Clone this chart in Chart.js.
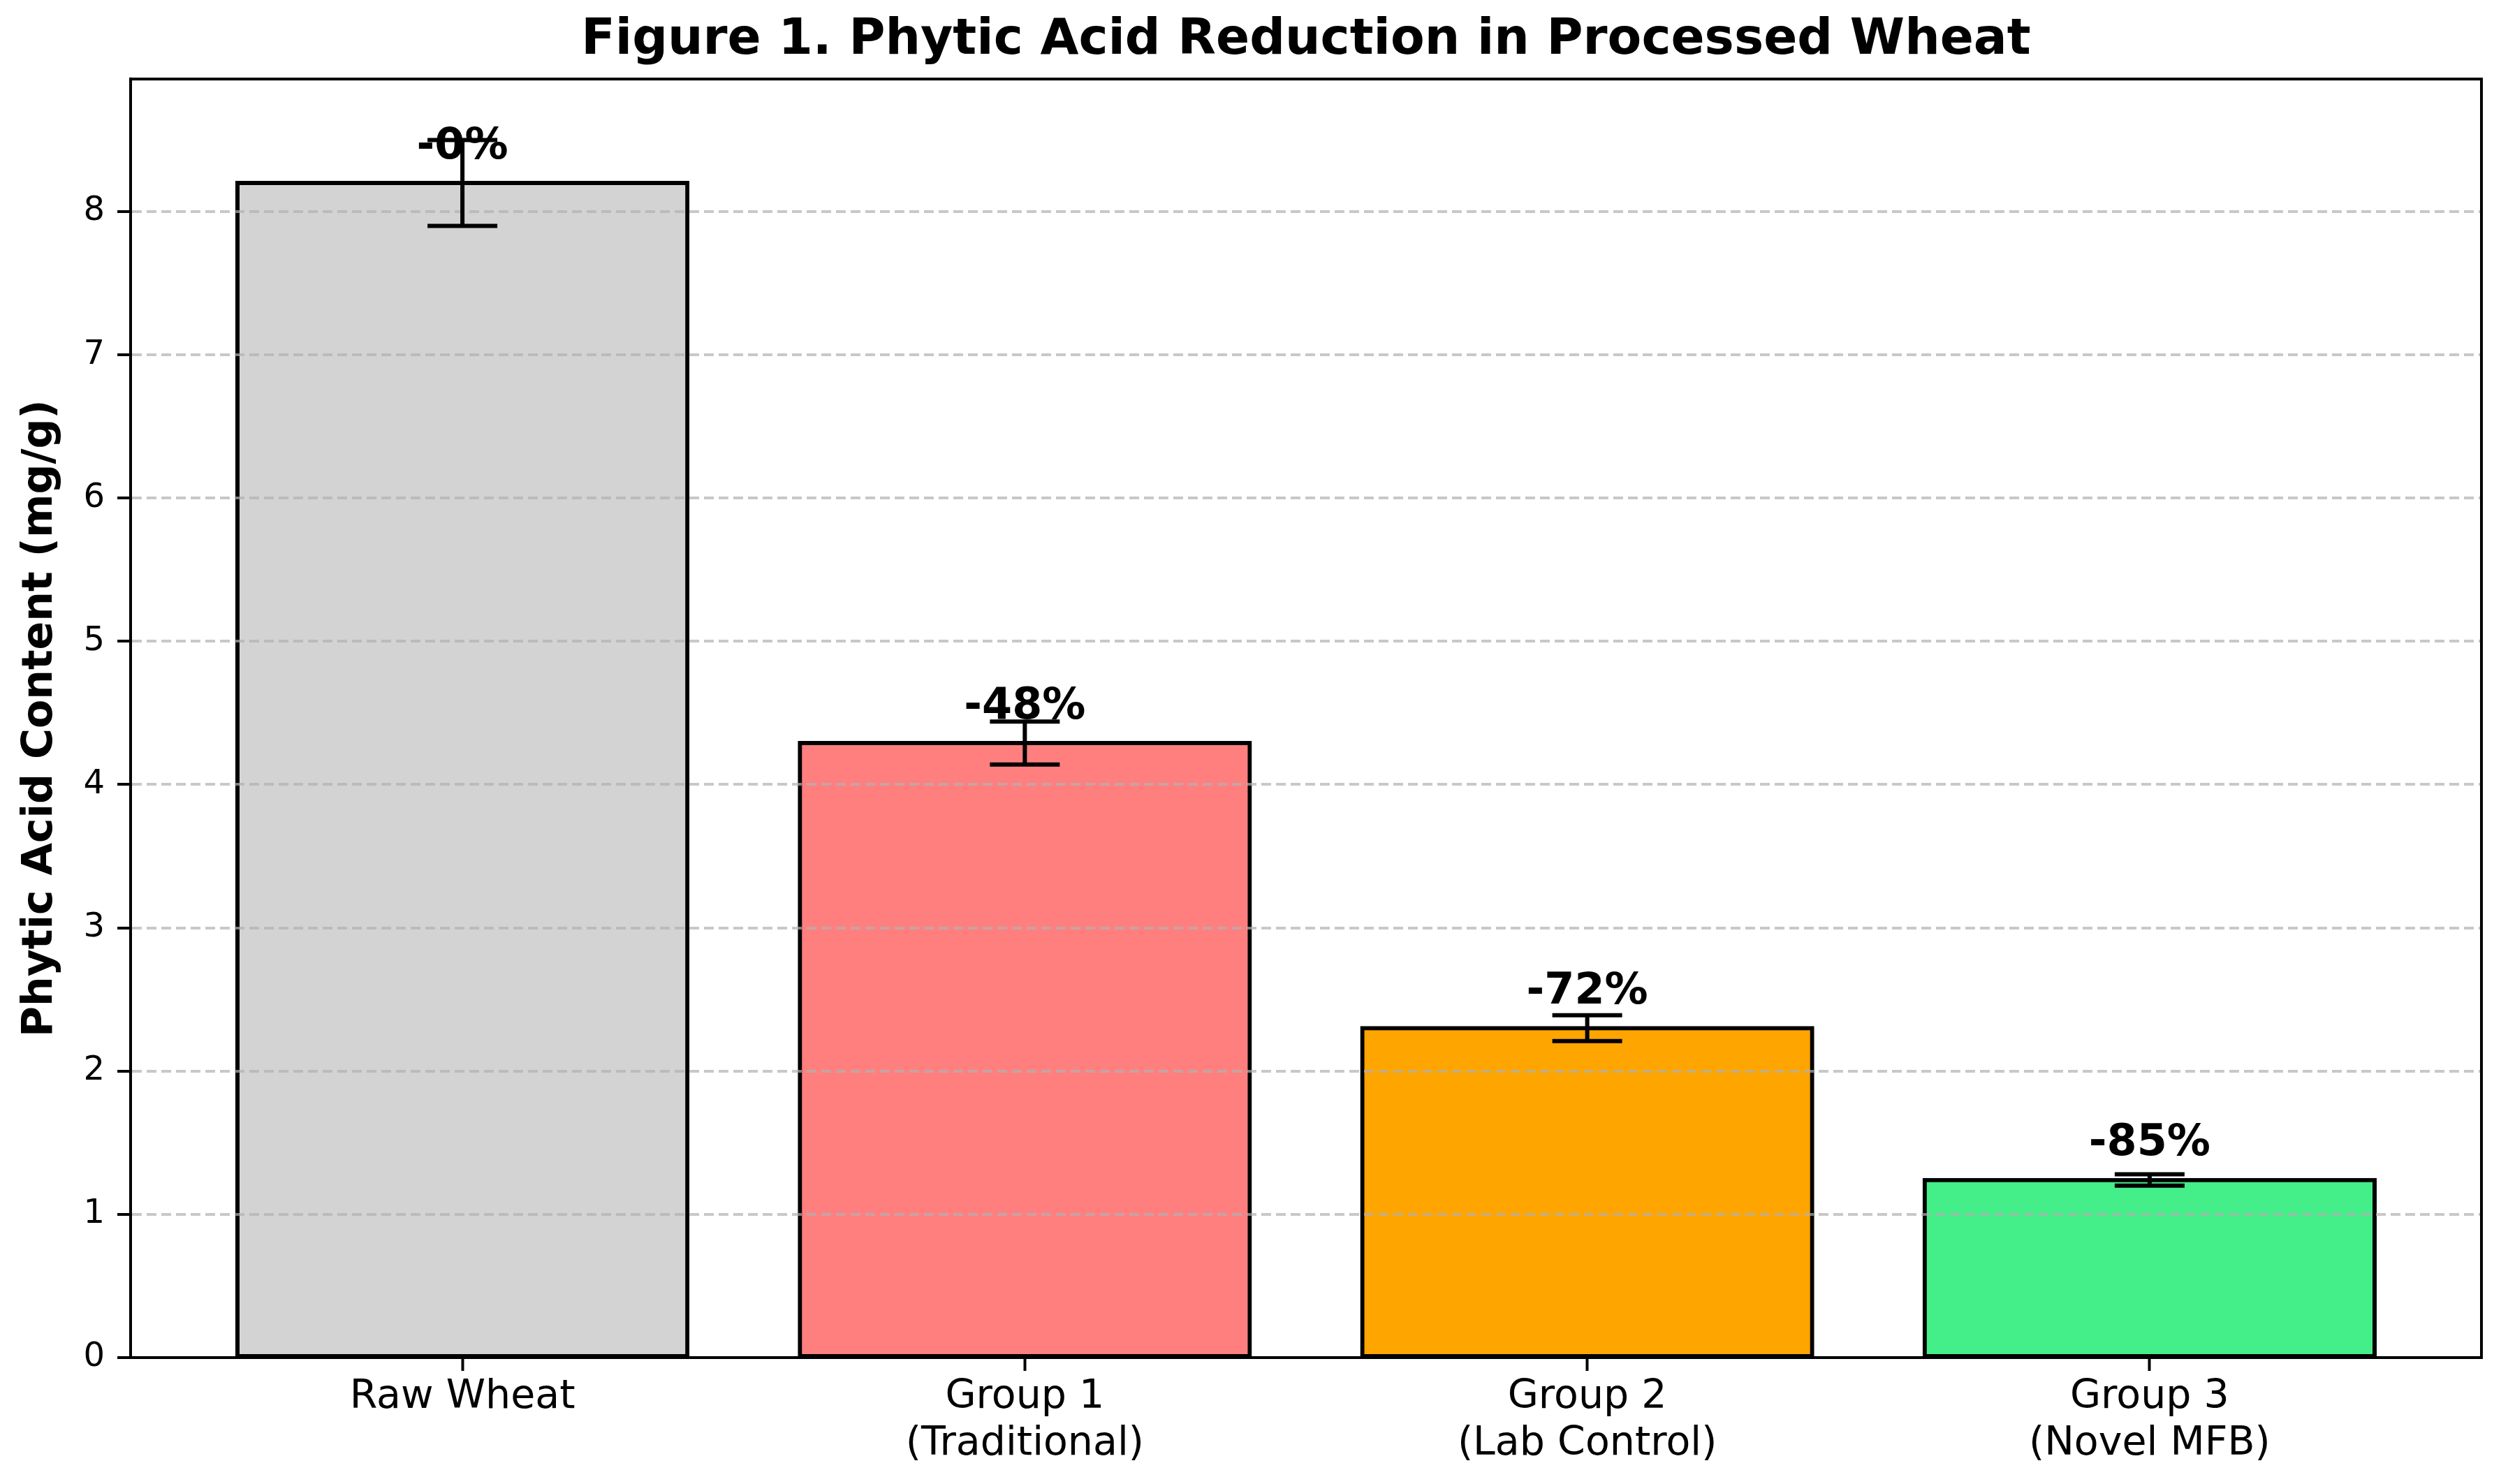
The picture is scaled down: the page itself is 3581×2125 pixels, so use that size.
<!DOCTYPE html>
<html>
<head>
<meta charset="utf-8">
<script src="https://cdn.jsdelivr.net/npm/chart.js@4/dist/chart.umd.min.js"></script>
<style>
  html, body { margin: 0; padding: 0; background: #ffffff; }
  canvas { display: block; }
</style>
</head>
<body>
<canvas id="c" width="3581" height="2125" style="width:3581px;height:2125px"></canvas>
<script>
// ---- data ----
const categories = ['Raw Wheat', 'Group 1', 'Group 2', 'Group 3'];
const categorySubtitles = ['', '(Traditional)', '(Lab Control)', '(Novel MFB)'];
const phyticAcid = [8.2, 4.29, 2.30, 1.24];
const errors = [0.3, 0.15, 0.09, 0.04];
const reductionLabels = ['-0%', '-48%', '-72%', '-85%'];
const barColors = ['#d3d3d3', '#ff7f7f', '#ffa500', '#44ee88'];
const yTicks = [0, 1, 2, 3, 4, 5, 6, 7, 8];
const titleText = 'Figure 1. Phytic Acid Reduction in Processed Wheat';
const yAxisTitle = 'Phytic Acid Content (mg/g)';

const xTickLabels = categories.map((c, i) => categorySubtitles[i] ? [c, categorySubtitles[i]] : [c]);

Chart.defaults.font.family = '"DejaVu Sans", sans-serif';
Chart.defaults.color = '#000';

const CAP_HALF = 50;
const LABEL_FONT = 62;

const overlay = {
  id: 'overlay',
  afterDraw(chart) {
    const { ctx, chartArea: a, scales: { x, y } } = chart;
    ctx.save();
    // error bars
    ctx.strokeStyle = '#000';
    ctx.lineWidth = 6;
    ctx.lineCap = 'butt';
    phyticAcid.forEach((v, i) => {
      const px = x.getPixelForValue(i);
      const top = y.getPixelForValue(v + errors[i]);
      const bot = y.getPixelForValue(v - errors[i]);
      ctx.beginPath();
      ctx.moveTo(px, top); ctx.lineTo(px, bot);
      ctx.moveTo(px - CAP_HALF, top); ctx.lineTo(px + CAP_HALF, top);
      ctx.moveTo(px - CAP_HALF, bot); ctx.lineTo(px + CAP_HALF, bot);
      ctx.stroke();
    });
    // value labels
    ctx.fillStyle = '#000';
    ctx.font = 'bold ' + LABEL_FONT + 'px "DejaVu Sans"';
    ctx.textAlign = 'center';
    ctx.textBaseline = 'alphabetic';
    reductionLabels.forEach((t, i) => {
      const px = x.getPixelForValue(i);
      const py = y.getPixelForValue(phyticAcid[i] + 0.1) - 0.236 * LABEL_FONT;
      ctx.fillText(t, px, py);
    });
    // frame (top & right spines)
    ctx.lineWidth = 4;
    ctx.strokeRect(a.left, a.top, a.right - a.left, a.bottom - a.top);
    ctx.restore();
  }
};

new Chart(document.getElementById('c'), {
  type: 'bar',
  data: {
    datasets: [{
      data: categories.map((c, i) => ({ x: i, y: phyticAcid[i] })),
      backgroundColor: barColors,
      borderColor: '#000',
      borderWidth: 6,
      borderSkipped: false,
      inflateAmount: 3,
      categoryPercentage: 0.8,
      barPercentage: 1.0
    }]
  },
  options: {
    responsive: false,
    devicePixelRatio: 1,
    animation: false,
    layout: { padding: { left: 0, right: 28, top: 0, bottom: 0 } },
    plugins: {
      legend: { display: false },
      tooltip: { enabled: false },
      title: {
        display: true,
        text: titleText,
        fullSize: false,
        color: '#000',
        font: { size: 71, weight: 'bold', lineHeight: 1.2 },
        padding: { top: 16, bottom: 12 }
      }
    },
    scales: {
      x: {
        type: 'linear',
        min: -0.59,
        max: 3.59,
        offset: false,
        afterBuildTicks: (s) => { s.ticks = categories.map((_, i) => ({ value: i })); },
        afterFit: (s) => { s.height = 181; },
        ticks: {
          callback: (v) => xTickLabels[v],
          color: '#000',
          padding: 5,
          autoSkip: false,
          maxRotation: 0,
          font: { size: 57, lineHeight: 1.17 }
        },
        grid: { offset: false, drawOnChartArea: false, tickLength: 19, tickColor: '#000', tickWidth: 4, z: 1 },
        border: { display: true, color: '#000', width: 4, z: 2 }
      },
      y: {
        type: 'linear',
        min: 0,
        max: 8.925,
        afterBuildTicks: (s) => { s.ticks = yTicks.map((v) => ({ value: v })); },
        afterFit: (s) => { s.width = 187; },
        ticks: { color: '#000', padding: 18, font: { size: 48 } },
        grid: { color: 'rgba(176,176,176,0.7)', lineWidth: 4, tickLength: 19, tickColor: '#000', tickWidth: 4, z: 1 },
        border: { display: true, color: '#000', width: 4, dash: [14, 7], z: 2 },
        title: {
          display: true,
          text: yAxisTitle,
          color: '#000',
          font: { size: 60, weight: 'bold', lineHeight: 1.2 },
          padding: { top: 22, bottom: 0 }
        }
      }
    }
  },
  plugins: [overlay]
});
</script>
</body>
</html>
